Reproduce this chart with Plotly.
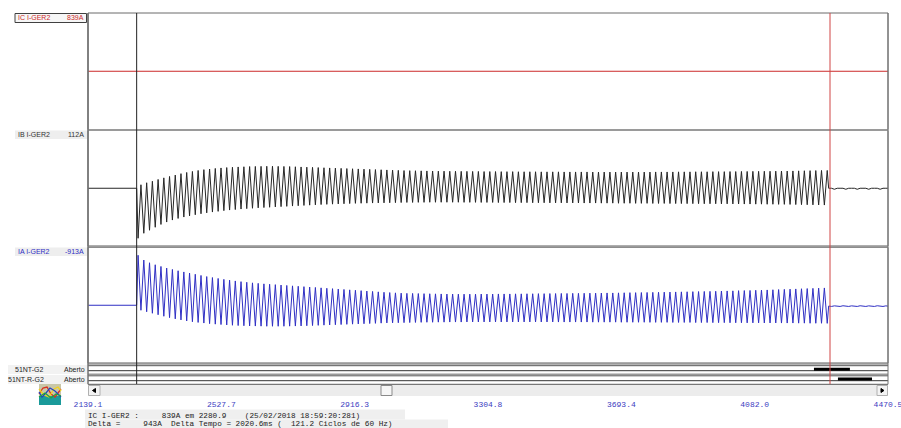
import plotly.graph_objects as go

W, H = 901, 428

# ------------------------------------------------------------------ data
T_START, T_END = 2139.1, 4470.5                      # visible time window (ms)
TICKS = [2139.1, 2527.7, 2916.3, 3304.8, 3693.4, 4082.0, 4470.5]
CURSOR_1 = 2280.9                                    # black cursor (ms)
DELTA_T = 2020.6                                     # cursor spacing (ms)
FREQ = 60.0                                          # Hz
FAULT_START = 2280.9

# IC channel: flat trace
IC_TIME = [2139.1, 4470.5]
IC_VALUES = [0, 0]

# IB per-cycle troughs / peaks (A)
IB_TROUGH = [-500, -450, -420, -390, -362, -338, -318, -302, -288, -276,
             -265, -255, -246, -238, -231, -224, -218, -213, -208, -204,
             -200, -196, -193, -190, -187, -184, -181, -178, -175, -172,
             -169, -166, -163, -161, -159, -157, -155, -153, -151, -150,
             -149, -148, -147, -146, -145, -144, -143, -142, -142, -141,
             -141, -140, -140, -140, -140, -140, -140, -141, -141, -141,
             -142, -142, -142, -143, -143, -143, -144, -144, -144, -145,
             -145, -145, -146, -146, -146, -147, -147, -147, -148, -148,
             -148, -149, -149, -149, -150, -150, -150, -151, -151, -151,
             -152, -152, -152, -153, -153, -153, -154, -154, -154, -155,
             -155, -155, -156, -156, -157, -157, -158, -158, -159, -159,
             -160, -160, -161, -161, -162, -163, -164, -165, -166, -167,
             -168]
IB_PEAK = [35, 55, 70, 88, 104, 118, 132, 146, 158, 168,
           178, 186, 192, 198, 203, 207, 210, 213, 215, 217,
           218, 219, 220, 220, 219, 218, 217, 215, 213, 211,
           209, 207, 205, 203, 201, 199, 197, 195, 193, 191,
           189, 187, 185, 183, 181, 179, 177, 176, 175, 174,
           173, 172, 171, 171, 170, 170, 169, 169, 168, 168,
           167, 167, 167, 166, 166, 166, 165, 165, 165, 165,
           164, 164, 164, 164, 163, 163, 163, 163, 163, 162,
           162, 162, 162, 162, 162, 162, 162, 162, 162, 162,
           163, 163, 163, 163, 164, 164, 164, 165, 165, 165,
           166, 166, 166, 167, 167, 168, 168, 169, 169, 170,
           170, 171, 172, 172, 173, 174, 175, 176, 177, 178,
           178]
IB_POST = [0, 0, -10, 0, 0, 0, -10, 0, 0, 0, -10,
           0, 0, 0, -10, 0, 0, 0, -10, 0, 0, 0]

# IA per-cycle peaks / troughs (A)
IA_PEAK = [500, 452, 425, 405, 388, 372, 358, 345, 333, 322,
           310, 298, 287, 277, 268, 259, 251, 243, 236, 230,
           224, 219, 214, 210, 206, 202, 198, 194, 190, 186,
           182, 178, 174, 170, 166, 162, 158, 154, 150, 146,
           142, 138, 134, 130, 127, 124, 121, 119, 118, 117,
           116, 115, 114, 113, 112, 112, 111, 111, 111, 111,
           112, 112, 112, 113, 113, 113, 114, 114, 115, 115,
           116, 116, 117, 117, 118, 118, 119, 119, 120, 121,
           121, 122, 123, 123, 124, 125, 126, 126, 127, 128,
           129, 130, 131, 132, 133, 134, 135, 136, 137, 138,
           139, 140, 142, 143, 144, 146, 147, 148, 150, 151,
           153, 155, 157, 159, 161, 163, 165, 167, 169, 171,
           173]
IA_TROUGH = [-50, -65, -80, -95, -110, -124, -136, -147, -157, -165,
             -172, -178, -184, -189, -193, -197, -200, -203, -205, -207,
             -208, -209, -210, -210, -210, -210, -209, -208, -207, -205,
             -203, -201, -199, -197, -195, -193, -191, -189, -187, -185,
             -183, -181, -179, -177, -176, -175, -174, -173, -172, -171,
             -170, -170, -169, -169, -168, -168, -168, -167, -167, -167,
             -167, -167, -167, -167, -167, -167, -167, -167, -167, -167,
             -167, -167, -167, -168, -168, -168, -168, -168, -168, -169,
             -169, -169, -169, -169, -170, -170, -170, -170, -170, -171,
             -171, -171, -171, -172, -172, -172, -172, -173, -173, -173,
             -174, -174, -174, -175, -175, -175, -176, -176, -176, -177,
             -177, -177, -178, -178, -178, -179, -179, -180, -180, -180,
             -181]
IA_POST = [-8, -12, -6, -10, -12, -5, -9, -12, -6, -10, -12,
           -5, -9, -12, -6, -10, -12, -5, -9, -12, -6, -10]

# digital channels: active intervals (ms)
DIG1_ON = [4254.7, 4359.5]
DIG2_ON = [4324.6, 4423.9]

CH_NAMES = ["IC I-GER2", "IB I-GER2", "IA I-GER2"]
CH_VALUES = ["839A", "112A", "-913A"]
DIG_NAMES = ["51NT-G2", "51NT-R-G2"]
DIG_STATE = ["Aberto", "Aberto"]
INFO_1 = "IC I-GER2 :     839A em 2280.9    (25/02/2018 18:59:20:281)"
INFO_2 = "Delta =     943A  Delta Tempo = 2020.6ms (  121.2 Ciclos de 60 Hz)"

# ------------------------------------------------------------------ helpers
def px(x):
    return x / W


def py(y):
    return 1 - y / H


def build_wave(first, second, post, t0):
    period = 1000.0 / FREQ
    xs = [T_START, t0]
    ys = [0, 0]
    for n, (a, b) in enumerate(zip(first, second)):
        xs += [t0 + n * period + period / 4, t0 + n * period + 3 * period / 4]
        ys += [a, b]
    t_end = t0 + len(first) * period
    for k, v in enumerate(post):
        xs.append(t_end + k * period / 2)
        ys.append(v)
    return xs, ys


CURSOR_2 = CURSOR_1 + DELTA_T
XDOM = [px(88), px(888)]

RED = "#cc2a2a"
BLUE = "#2f2fc4"
INK = "#1e1e1e"

fig = go.Figure()

# analog panels (pixel bounds)
P1 = (13, 129.5)
P2 = (130.5, 246)
P3 = (247.5, 363)
A_PER_PX = 10.0


def yrange(p):
    half = (p[1] - p[0]) / 2 * A_PER_PX
    return [-half, half]


ib_x, ib_y = build_wave(IB_TROUGH, IB_PEAK, IB_POST, FAULT_START)
ia_x, ia_y = build_wave(IA_PEAK, IA_TROUGH, IA_POST, FAULT_START)

fig.add_trace(go.Scatter(x=IC_TIME, y=IC_VALUES, mode="lines",
                         line=dict(color=RED, width=1), xaxis="x", yaxis="y"))
fig.add_trace(go.Scatter(x=ib_x, y=ib_y, mode="lines",
                         line=dict(color="#262626", width=1), xaxis="x2", yaxis="y2"))
fig.add_trace(go.Scatter(x=ia_x, y=ia_y, mode="lines",
                         line=dict(color=BLUE, width=1), xaxis="x3", yaxis="y3"))

# digital channels
fig.add_trace(go.Scatter(x=[T_START, T_END], y=[0, 0], mode="lines",
                         line=dict(color="#333333", width=1), xaxis="x4", yaxis="y4"))
fig.add_trace(go.Scatter(x=DIG1_ON, y=[1, 1], mode="lines",
                         line=dict(color="#000000", width=3), xaxis="x4", yaxis="y4"))
fig.add_trace(go.Scatter(x=[T_START, T_END], y=[0, 0], mode="lines",
                         line=dict(color="#333333", width=1), xaxis="x5", yaxis="y5"))
fig.add_trace(go.Scatter(x=DIG2_ON, y=[1, 1], mode="lines",
                         line=dict(color="#000000", width=3), xaxis="x5", yaxis="y5"))
# tick axis holder
fig.add_trace(go.Scatter(x=[], y=[], mode="lines", xaxis="x6", yaxis="y6"))

hidden = dict(showgrid=False, zeroline=False, showticklabels=False,
              showline=False, ticks="", fixedrange=True, automargin=False)

layout_axes = {}
for i, (pnl) in enumerate([P1, P2, P3], start=1):
    sx = "" if i == 1 else str(i)
    layout_axes["xaxis" + sx] = dict(domain=XDOM, range=[T_START, T_END],
                                     anchor="y" + sx, **hidden)
    layout_axes["yaxis" + sx] = dict(domain=[py(pnl[1]), py(pnl[0])],
                                     range=yrange(pnl), anchor="x" + sx, **hidden)


def dig_axis(top, bottom, zero_px, one_px):
    unit = zero_px - one_px
    lo = -(bottom - zero_px) / unit
    hi = (zero_px - top) / unit
    return [lo, hi]


layout_axes["xaxis4"] = dict(domain=XDOM, range=[T_START, T_END], anchor="y4", **hidden)
layout_axes["yaxis4"] = dict(domain=[py(375), py(364)],
                             range=dig_axis(364, 375, 370.7, 369.2), anchor="x4", **hidden)
layout_axes["xaxis5"] = dict(domain=XDOM, range=[T_START, T_END], anchor="y5", **hidden)
layout_axes["yaxis5"] = dict(domain=[py(385), py(375)],
                             range=dig_axis(375, 385, 380.7, 379.1), anchor="x5", **hidden)
layout_axes["xaxis6"] = dict(domain=XDOM, range=[T_START, T_END], anchor="y6",
                             showgrid=False, zeroline=False, showline=False, ticks="",
                             tickvals=TICKS, ticktext=[f"{v:.1f}" for v in TICKS],
                             tickfont=dict(family="Liberation Mono", size=8, color="#3d3dbf"),
                             ticklabeloverflow="allow",
                             tickangle=0, fixedrange=True, automargin=False)
layout_axes["yaxis6"] = dict(domain=[py(398), py(397)], range=[0, 1], anchor="x6", **hidden)

shapes = []


def rect(x0, y0, x1, y1, fill=None, line=None, lw=1, layer="above"):
    shapes.append(dict(type="rect", xref="paper", yref="paper",
                       x0=px(x0), x1=px(x1), y0=py(y1), y1=py(y0),
                       fillcolor=fill if fill else "rgba(0,0,0,0)",
                       line=dict(color=line if line else "rgba(0,0,0,0)", width=lw if line else 0),
                       layer=layer))


def hline(x0, x1, y, color, lw=1):
    shapes.append(dict(type="line", xref="paper", yref="paper",
                       x0=px(x0), x1=px(x1), y0=py(y), y1=py(y),
                       line=dict(color=color, width=lw), layer="above"))


def path(points, color, lw=1, fill=None, close=False):
    d = "M " + " L ".join(f"{px(a):.5f},{py(b):.5f}" for a, b in points)
    if close:
        d += " Z"
    shapes.append(dict(type="path", xref="paper", yref="paper", path=d,
                       line=dict(color=color, width=lw),
                       fillcolor=fill if fill else "rgba(0,0,0,0)", layer="above"))


# label backgrounds (below)
rect(85, 409.5, 405, 419.5, fill="#efefef", layer="below")
rect(85, 419.5, 448, 428, fill="#efefef", layer="below")
rect(15, 130.5, 87, 139, fill="#eeeeee", layer="below")
rect(15, 247.5, 87, 256, fill="#eeeeee", layer="below")
rect(8, 365, 87, 374, fill="#f2f2f2", layer="below")
rect(8, 375, 87, 384, fill="#f2f2f2", layer="below")

# IC label box
rect(15, 13.5, 86.5, 22.5, fill="#f6f6f6", line="#404040", lw=1, layer="below")

# panel frames
for (t, b) in [P1, P2, P3]:
    rect(88, t, 888, b, line="#6a6a6a", lw=1)
hline(88, 888, 130, "#9a9a9a", 2)
hline(88, 888, 246.8, "#9a9a9a", 2)
hline(88, 888, 363.8, "#9a9a9a", 2)
hline(88, 888, 365.7, "#555555", 1)
hline(88, 888, 374.3, "#9a9a9a", 1.5)
hline(88, 888, 375.8, "#555555", 1)
hline(88, 888, 384.3, "#555555", 1)
shapes.append(dict(type="line", xref="paper", yref="paper",
                   x0=px(88), x1=px(88), y0=py(384.3), y1=py(13),
                   line=dict(color="#707070", width=1.5), layer="above"))
shapes.append(dict(type="line", xref="paper", yref="paper",
                   x0=px(888), x1=px(888), y0=py(384.3), y1=py(13),
                   line=dict(color="#707070", width=1), layer="above"))

# cursors (data coordinates on the shared time axis)
shapes.append(dict(type="line", xref="x", yref="paper", x0=CURSOR_1, x1=CURSOR_1,
                   y0=py(384), y1=py(13), line=dict(color="#222222", width=1), layer="above"))
shapes.append(dict(type="line", xref="x", yref="paper", x0=CURSOR_2, x1=CURSOR_2,
                   y0=py(384), y1=py(13), line=dict(color="#d04545", width=1), layer="above"))

# scrollbar
rect(88, 385, 888, 396, fill="#ececec")
rect(88.5, 385.5, 100, 395.5, fill="#f3f3f3", line="#b0b0b0")
path([(95.5, 388.5), (92.5, 390.5), (95.5, 392.5)], "#000000", 1, fill="#000000", close=True)
rect(877, 385.5, 887.5, 395.5, fill="#f3f3f3", line="#b0b0b0")
path([(881, 388.5), (884, 390.5), (881, 392.5)], "#000000", 1, fill="#000000", close=True)
rect(381, 385.5, 392, 395.5, fill="#f6f6f6", line="#8a8a8a")

# icon
rect(39, 384, 61, 405, fill="#1a9a9a")
rect(39, 384, 61, 396, fill="#c9c7a8")
path([(39, 394), (43, 388), (47, 387), (51, 394), (55, 397), (61, 389)], "#d83020", 1.3)
path([(39, 389), (44, 395), (49, 397), (54, 389), (58, 387), (61, 391)], "#f0d020", 1.3)
path([(39, 392), (42, 397), (46, 393), (50, 388), (55, 391), (61, 397)], "#2040c0", 1.2)
path([(39, 397), (45, 393), (51, 398), (56, 394), (61, 396)], "#20a040", 1.2)

annotations = []


def text(s, x, y, color, size, anchor="left", family="Liberation Sans"):
    annotations.append(dict(text=s.replace(" ", "\u00a0") if family == "Liberation Mono" else s,
                            xref="paper", yref="paper", x=px(x), y=py(y),
                            xanchor=anchor, yanchor="middle", showarrow=False,
                            font=dict(family=family, size=size, color=color)))


label_y = [18, 134.8, 251.8]
label_col = [RED, "#333333", BLUE]
for name, val, yy, col in zip(CH_NAMES, CH_VALUES, label_y, label_col):
    text(name, 16, yy, col, 7)
    text(val, 86, yy, col, 7, anchor="right")

for name, st, yy in zip(DIG_NAMES, DIG_STATE, [369.3, 379.3]):
    text(name, 46, yy, INK, 7, anchor="right")
    text(st, 86.5, yy, INK, 7, anchor="right")

text(INFO_1, 86, 415.5, "#222222", 7.7, family="Liberation Mono")
text(INFO_2, 86, 424.3, "#222222", 7.7, family="Liberation Mono")

fig.update_layout(
    template="none",
    width=W, height=H, autosize=False,
    margin=dict(l=0, r=0, t=0, b=0, pad=0, autoexpand=False),
    paper_bgcolor="white", plot_bgcolor="white",
    showlegend=False, hovermode=False,
    shapes=shapes, annotations=annotations,
    **layout_axes,
)

fig.write_html(
    "out.html",
    config={"displayModeBar": False, "staticPlot": True},
    post_script="document.body.style.margin='0px';document.body.style.overflow='hidden';",
)
